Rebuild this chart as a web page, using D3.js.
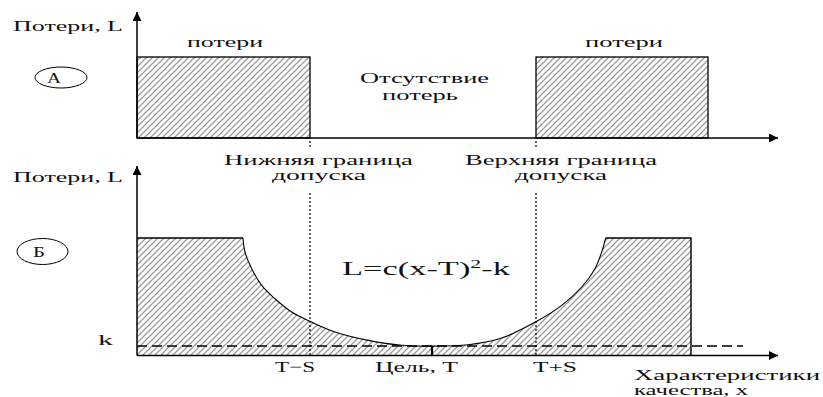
<!DOCTYPE html>
<html>
<head>
<meta charset="utf-8">
<script src="https://cdn.jsdelivr.net/npm/d3@7"></script>
<style>
  body { margin: 0; background: #fff; }
  text { font-family: "Liberation Serif", "DejaVu Serif", serif; fill: #111; }
</style>
</head>
<body>
<div class="chart"></div>
<script>
// data: quality axis in arbitrary units, losses relative to the plateau level
var xMax = 641;
var tolMarks = [173, 295, 399];            // T-S, T, T+S
var tolLabels = ["T\u2212S", "Цель, T", "T+S"];
var lossZones = [[0, 173], [399, 571]];    // panel A: step losses
var zoneLoss = 1;
var kLevel = 0.08;
var kEnd = 606;
var plateauL = [0, 106];
var plateauR = [468.7, 554];
var curveX = [106, 108, 114.7, 124.7, 138, 154.7, 173, 198, 231.3, 264.7, 295, 331.3, 364.7, 399.7, 424.7, 444.7, 458, 464.7, 468.7];
var curveL = [1, 0.881, 0.739, 0.597, 0.483, 0.370, 0.291, 0.200, 0.129, 0.087, 0.08, 0.092, 0.149, 0.291, 0.427, 0.583, 0.739, 0.881, 1];

var w = 823, h = 397;
var svg = d3.select(".chart").append("svg")
    .attr("width", w)
    .attr("height", h);

// hatch pattern
var defs = svg.append("defs");
defs.append("pattern")
    .attr("id", "hatch")
    .attr("patternUnits", "userSpaceOnUse")
    .attr("width", 6)
    .attr("height", 6)
  .append("path")
    .attr("d", "M-1.5,1.5L1.5,-1.5M0,6L6,0M4.5,7.5L7.5,4.5")
    .style("stroke", "#9a9a9a")
    .style("stroke-width", 1.25);

defs.append("marker")
    .attr("id", "arrow")
    .attr("viewBox", "0 0 10 10")
    .attr("refX", 10).attr("refY", 5)
    .attr("markerUnits", "userSpaceOnUse")
    .attr("markerWidth", 15).attr("markerHeight", 9)
    .attr("orient", "auto")
  .append("path")
    .attr("d", "M0,0L10,5L0,10Z")
    .style("fill", "#000");

// scales
var xScale = d3.scaleLinear().domain([0, xMax]).range([137, 778]);
var yTop = d3.scaleLinear().domain([0, zoneLoss]).range([138, 57]);
var yBot = d3.scaleLinear().domain([0, 1]).range([355.5, 238]);

// text helper: fit to measured width like the stretched original
function label(txt, x0, x1, y, size) {
  return svg.append("text")
      .attr("x", x0)
      .attr("y", y)
      .attr("font-size", size || 15)
      .attr("textLength", x1 - x0)
      .attr("lengthAdjust", "spacingAndGlyphs")
      .text(txt);
}

// ---- panel A ----
svg.selectAll(".zone")
    .data(lossZones)
  .enter().append("rect")
    .attr("class", "zone")
    .attr("x", function(d) { return xScale(d[0]); })
    .attr("y", yTop(zoneLoss))
    .attr("width", function(d) { return xScale(d[1]) - xScale(d[0]); })
    .attr("height", yTop(0) - yTop(zoneLoss))
    .style("fill", "url(#hatch)")
    .style("stroke", "#000")
    .style("stroke-width", 1.3);

// axes A
svg.append("line")
    .attr("x1", xScale(0)).attr("y1", yTop(0))
    .attr("x2", xScale(0)).attr("y2", 12)
    .attr("marker-end", "url(#arrow)")
    .style("stroke", "#000").style("stroke-width", 1.5);
svg.append("line")
    .attr("x1", xScale(0)).attr("y1", yTop(0))
    .attr("x2", xScale(xMax)).attr("y2", yTop(0))
    .attr("marker-end", "url(#arrow)")
    .style("stroke", "#000").style("stroke-width", 1.5);

// ---- panel B ----
var curvePath = d3.line()
    .x(function(d, i) { return xScale(curveX[i]); })
    .y(function(d) { return yBot(d); })
    .curve(d3.curveCatmullRom.alpha(0.5))(curveL);

var fillPath = "M" + xScale(plateauL[0]) + "," + yBot(0) +
    "L" + xScale(plateauL[0]) + "," + yBot(1) +
    "L" + curvePath.slice(1) +
    "L" + xScale(plateauR[1]) + "," + yBot(1) +
    "L" + xScale(plateauR[1]) + "," + yBot(0) + "Z";

svg.append("path")
    .attr("d", fillPath)
    .style("fill", "url(#hatch)")
    .style("stroke", "none");

// plateaus and right edge
svg.append("path")
    .attr("d", "M" + xScale(plateauL[0]) + "," + yBot(1) + "L" + xScale(plateauL[1]) + "," + yBot(1) +
        "M" + xScale(plateauR[0]) + "," + yBot(1) + "L" + xScale(plateauR[1]) + "," + yBot(1) +
        "L" + xScale(plateauR[1]) + "," + yBot(0))
    .style("fill", "none")
    .style("stroke", "#000")
    .style("stroke-width", 1.4);

// loss curve
svg.append("path")
    .attr("d", curvePath)
    .style("fill", "none")
    .style("stroke", "#000")
    .style("stroke-width", 1.1);

// k level
svg.append("line")
    .attr("x1", xScale(0)).attr("y1", yBot(kLevel))
    .attr("x2", xScale(kEnd)).attr("y2", yBot(kLevel))
    .style("stroke", "#000")
    .style("stroke-width", 1.5)
    .style("stroke-dasharray", "10,5");

// tolerance lines
tolMarks.forEach(function(m, i) {
  if (i === 1) {
    svg.append("line")
        .attr("x1", xScale(m)).attr("y1", yBot(kLevel))
        .attr("x2", xScale(m)).attr("y2", yBot(0))
        .style("stroke", "#000").style("stroke-width", 2.2);
    return;
  }
  svg.append("line")
      .attr("x1", xScale(m)).attr("y1", yTop(0) + 3)
      .attr("x2", xScale(m)).attr("y2", yTop(0) + 10)
      .style("stroke", "#000").style("stroke-width", 1.2)
      .style("stroke-dasharray", "2,2");
  svg.append("line")
      .attr("x1", xScale(m)).attr("y1", 193)
      .attr("x2", xScale(m)).attr("y2", yBot(0))
      .style("stroke", "#000").style("stroke-width", 1.2)
      .style("stroke-dasharray", "2,2");
});

// axes B
svg.append("line")
    .attr("x1", xScale(0)).attr("y1", yBot(0))
    .attr("x2", xScale(0)).attr("y2", 166)
    .attr("marker-end", "url(#arrow)")
    .style("stroke", "#000").style("stroke-width", 1.5);
svg.append("line")
    .attr("x1", xScale(0)).attr("y1", yBot(0))
    .attr("x2", xScale(xMax)).attr("y2", yBot(0))
    .attr("marker-end", "url(#arrow)")
    .style("stroke", "#000").style("stroke-width", 1.5);

// circles with panel letters
svg.append("ellipse").attr("cx", 61).attr("cy", 77.5).attr("rx", 26).attr("ry", 10.5)
    .style("fill", "none").style("stroke", "#000").style("stroke-width", 1);
svg.append("ellipse").attr("cx", 42.5).attr("cy", 251.5).attr("rx", 25.5).attr("ry", 13)
    .style("fill", "none").style("stroke", "#000").style("stroke-width", 1);
label("А", 47, 61, 83);
label("Б", 33, 45, 257);

// texts
label("Потери, L", 13, 123, 31);
label("Потери, L", 13, 123, 182);
label("потери", 187, 263, 47);
label("потери", 585, 663, 47);
label("Отсутствие", 360, 489, 83);
label("потерь", 382, 458, 100);
label("Нижняя граница", 224, 413, 165);
label("допуска", 272, 366, 180);
label("Верхняя граница", 465, 657, 165);
label("допуска", 515, 607, 180);
label("k", 98, 113, 345);
label(tolLabels[0], 275, 315, 372);
label(tolLabels[1], 375, 458, 372);
label(tolLabels[2], 533, 577, 372);
label("Характеристики", 634, 820, 380, 14);
label("качества, x", 634, 748, 395, 14);

// formula, stretched horizontally to the measured span
var fg = svg.append("g");
var ft = fg.append("text").attr("font-size", 19);
ft.append("tspan").text("L=c(x-T)");
ft.append("tspan").attr("font-size", 12).attr("dy", -7).text("2");
ft.append("tspan").attr("dy", 7).text("-k");
var fw = ft.node().getComputedTextLength();
fg.attr("transform", "translate(342,275) scale(" + (168 / fw) + ",1)");
</script>
</body>
</html>
